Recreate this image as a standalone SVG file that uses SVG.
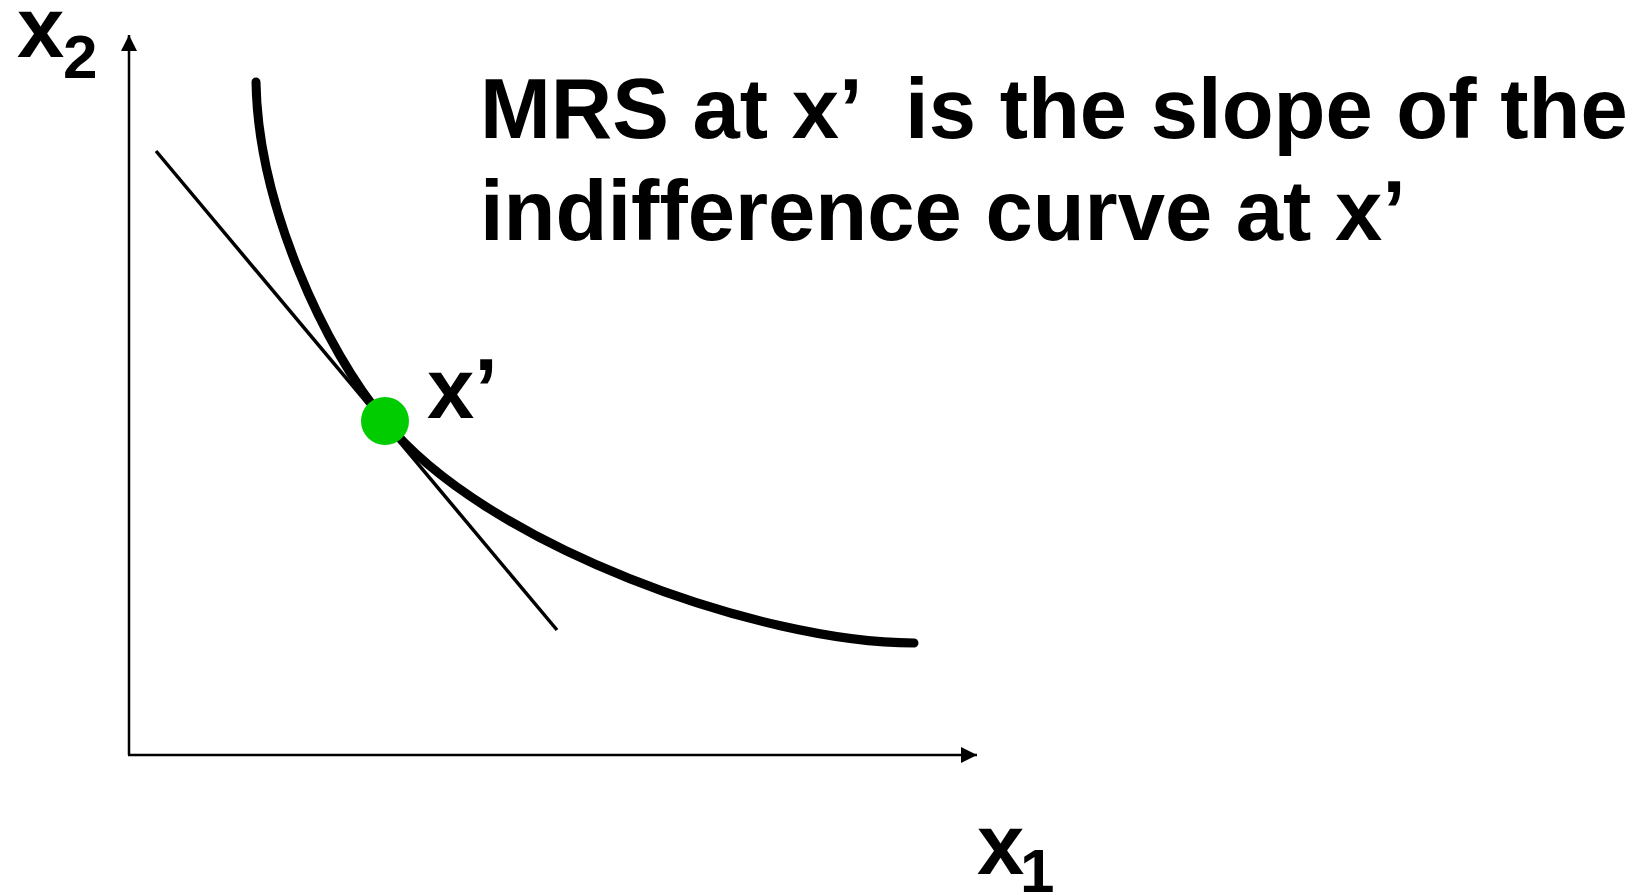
<svg xmlns="http://www.w3.org/2000/svg" width="1648" height="895" viewBox="0 0 1648 895">
  <style>
    .t { font-family: "Liberation Sans", Arial, sans-serif; font-weight: bold; fill: #000; white-space: pre; }
    .big { font-size: 85px; }
    .sub { font-size: 62px; }
    .axis { stroke: #000; stroke-width: 2.5; fill: none; }
  </style>
  <defs>
    <marker id="arrow" viewBox="0 0 16 16" refX="16" refY="8" markerWidth="16" markerHeight="16" markerUnits="userSpaceOnUse" orient="auto">
      <path d="M0,0 L16,8 L0,16 Z" fill="#000"/>
    </marker>
  </defs>
  <rect width="1648" height="895" fill="#fff"/>

  <g id="connectors">
    <path id="y-axis" class="axis" d="M129,755 L129,35" marker-end="url(#arrow)"/>
    <path id="x-axis" class="axis" d="M128,755 L977,755" marker-end="url(#arrow)"/>
  </g>

  <g id="indifference-curve">
    <path d="M256,82 C258,205 325,350 385,421 C485,545 760,643 914,643" fill="none" stroke="#000" stroke-width="9" stroke-linecap="round"/>
  </g>

  <g id="tangent-line">
    <line x1="156" y1="151" x2="557" y2="630" stroke="#000" stroke-width="3.5"/>
  </g>

  <g id="point-x-prime">
    <circle cx="385" cy="421" r="24" fill="#00CC00"/>
  </g>

  <g id="label-x-prime">
    <text class="t big" x="427" y="418">x’</text>
  </g>

  <g id="label-x2">
    <text class="t big" x="17" y="57">x</text>
    <text class="t sub" x="63" y="78">2</text>
  </g>

  <g id="label-x1">
    <text class="t big" x="977" y="874">x</text>
    <text class="t sub" x="1020" y="892">1</text>
  </g>

  <g id="title">
    <text class="t big" x="480" y="138">MRS at x’  is the slope of the</text>
    <text class="t big" x="480" y="240">indifference curve at x’</text>
  </g>
</svg>
